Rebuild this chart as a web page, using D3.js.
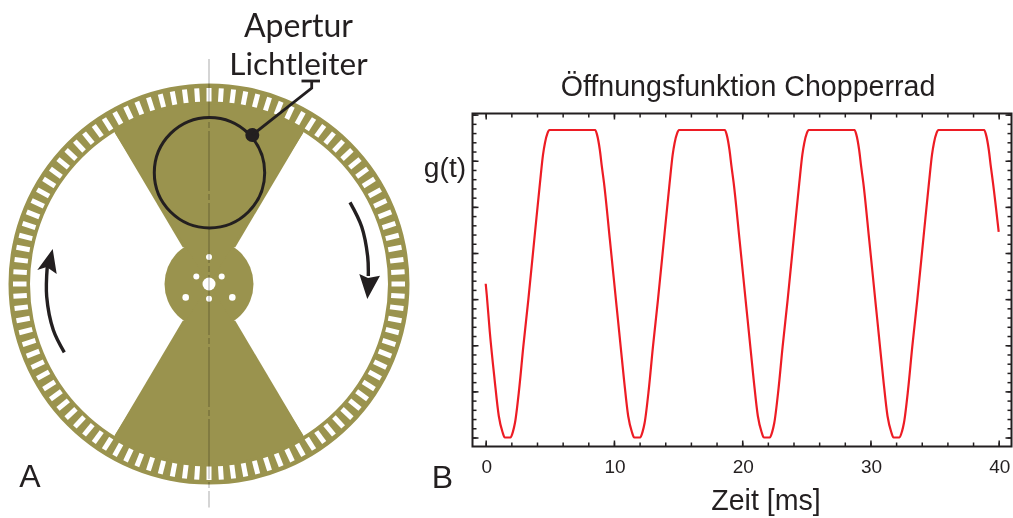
<!DOCTYPE html>
<html><head><meta charset="utf-8">
<style>html,body{margin:0;padding:0;background:#fff}svg{display:block}</style>
<script src="https://cdn.jsdelivr.net/npm/d3@7"></script></head>
<body><svg id="c" width="1013" height="518"></svg>
<script>
// Opening function g(t)
const timeMs = [0,0.08,0.32,0.69,1.02,1.31,1.49,
1.93,2.13,2.28,2.6,2.93,3.32,3.84,4.23,4.47,4.62,4.82,4.96,8.54,8.68,8.9,9.06,9.22,9.69,10.21,10.41,10.78,11.11,11.4,11.58,
12.04,12.24,12.39,12.71,13.04,13.43,13.95,14.34,14.58,14.73,14.93,15.07,18.65,18.79,19.01,19.17,19.33,19.8,20.32,20.52,20.89,21.22,21.51,21.69,
22.15,22.35,22.5,22.82,23.15,23.54,24.06,24.45,24.69,24.84,25.04,25.18,28.76,28.9,29.12,29.28,29.44,29.91,30.43,30.63,31,31.33,31.62,31.8,
32.26,32.46,32.61,32.93,33.26,33.65,34.17,34.56,34.8,34.95,35.15,35.29,38.87,39.01,39.23,39.39,39.55,40];
const gValue = [0.5,0.465,0.343,0.19,0.07,0.018,0,
0,0.02,0.047,0.154,0.295,0.447,0.665,0.827,0.92,0.958,0.99,1,1,0.985,0.935,0.88,0.83,0.64,0.425,0.343,0.19,0.07,0.018,0,
0,0.02,0.047,0.154,0.295,0.447,0.665,0.827,0.92,0.958,0.99,1,1,0.985,0.935,0.88,0.83,0.64,0.425,0.343,0.19,0.07,0.018,0,
0,0.02,0.047,0.154,0.295,0.447,0.665,0.827,0.92,0.958,0.99,1,1,0.985,0.935,0.88,0.83,0.64,0.425,0.343,0.19,0.07,0.018,0,
0,0.02,0.047,0.154,0.295,0.447,0.665,0.827,0.92,0.958,0.99,1,1,0.985,0.935,0.88,0.83,0.669];
const xTickLabels = [0,10,20,30,40];
const titleText = "Öffnungsfunktion Chopperrad";
const xLabelText = "Zeit [ms]";
const yLabelText = "g(t)";
const apertureLines = ["Apertur","Lichtleiter"];
const panelLetters = ["A","B"];
const slotAngles = d3.range(0,360,3.6);
const holeList = [[0,0,6.5],[-12.7,-7.6,3],[12.7,-7.6,3],[0,-27,3],[0,14.7,3],[-23.3,13.4,3.3],[23.3,13.4,3.3]];

const INK="#231f20", OLIVE="#9a934e", RED="#ed1c24";
const svg=d3.select("#c");

// ---------- Panel A: chopper wheel ----------
const cx=209, cy=284;
const wheel=svg.append("g").attr("transform",`translate(${cx},${cy})`);
const arc=d3.arc();
wheel.append("path").attr("fill",OLIVE).attr("fill-rule","evenodd")
  .attr("d",arc({innerRadius:179,outerRadius:200.5,startAngle:0,endAngle:2*Math.PI}));
wheel.append("circle").attr("r",44.5).attr("fill",OLIVE);
[1,-1].forEach(s=>{
  wheel.append("path").attr("fill",OLIVE)
    .attr("d",d3.line()([[-26.3,s*-36.7],[-94,s*-151],[94,s*-151],[26.3,s*-36.7]])+"Z");
  wheel.append("path").attr("fill",OLIVE)
    .attr("d",arc({innerRadius:0,outerRadius:180,
      startAngle:(s>0?0:Math.PI)-Math.atan2(94,151),endAngle:(s>0?0:Math.PI)+Math.atan2(94,151)}));
});
wheel.append("g").selectAll("rect").data(slotAngles).join("rect")
  .attr("x",-2.5).attr("y",-196).attr("width",5).attr("height",13.5).attr("fill","#fff")
  .attr("transform",d=>`rotate(${d})`);
wheel.append("g").selectAll("circle").data(holeList).join("circle")
  .attr("cx",d=>d[0]).attr("cy",d=>d[1]).attr("r",d=>d[2]).attr("fill","#fff");

svg.append("line").attr("x1",209).attr("x2",209).attr("y1",59).attr("y2",507.5)
  .attr("stroke","#c4c4c4").attr("stroke-width",1.4).attr("stroke-dasharray","60 3 6 3")
  .style("mix-blend-mode","multiply");

// aperture
svg.append("circle").attr("cx",209.5).attr("cy",172.7).attr("r",55.2)
  .attr("fill","none").attr("stroke",INK).attr("stroke-width",3);
svg.append("circle").attr("cx",252.3).attr("cy",135).attr("r",7).attr("fill",INK);
svg.append("path").attr("fill","none").attr("stroke",INK).attr("stroke-width",2.8)
  .attr("d",d3.line()([[252.3,135],[311.7,88],[311.7,81]]));
svg.append("line").attr("x1",301.5).attr("x2",320).attr("y1",81).attr("y2",81)
  .attr("stroke",INK).attr("stroke-width",2.8);

// rotation arrows
const curve=d3.line().curve(d3.curveCatmullRom);
svg.append("path").attr("fill","none").attr("stroke",INK).attr("stroke-width",3.4)
  .attr("d",curve([[350,202.3],[361.7,226.7],[367.7,256.7],[368.3,276]]));
svg.append("path").attr("fill",INK)
  .attr("d",d3.line()([[359.3,274],[368,278],[380,275.7],[367.3,299]])+"Z");
svg.append("path").attr("fill","none").attr("stroke",INK).attr("stroke-width",3.4)
  .attr("d",curve([[64.3,352.3],[53.3,330],[46.7,296.7],[47.3,266]]));
svg.append("path").attr("fill",INK)
  .attr("d",d3.line()([[52.7,249],[37.3,270],[46.7,267],[56.7,274]])+"Z");

const lato=`Lato,sans-serif`, arial=`"Liberation Sans",Arial,sans-serif`;
function label(t,x,y,size,fam,anchor){
  return svg.append("text").text(t).attr("x",x).attr("y",y).attr("font-size",size)
    .attr("font-family",fam).attr("text-anchor",anchor||"middle").attr("fill",INK);
}
label(apertureLines[0],298.5,36.5,32,lato);
label(apertureLines[1],298.5,75,31.5,lato);
label(panelLetters[0],30,487.3,32,arial);
label(panelLetters[1],442.5,488,32,arial);

// ---------- Panel B: opening function ----------
const L=472.5,R=1011.5,T=113.5,B=446.5;
const x=d3.scaleLinear().domain([0,40]).range([485.7,998.7]);
const y=d3.scaleLinear().domain([0,1]).range([437.5,130]);
const xMajor=[0,10,20,30,40], xMinor=d3.range(0,41,2);
const yMajor=d3.range(0,1.06,0.15), yMinor=d3.range(0,1.06,0.03);
function ticks(axis,vals,len,tr){
  const g=svg.append("g").attr("transform",tr)
    .call(axis.tickValues(vals).tickSize(len).tickFormat(""));
  g.select(".domain").remove();
  g.selectAll("line").attr("stroke",INK).attr("stroke-width",1.5);
}
ticks(d3.axisBottom(x),xMinor,-4,`translate(0,${B})`);
ticks(d3.axisBottom(x),xMajor,-6,`translate(0,${B})`);
ticks(d3.axisTop(x),xMinor,-4,`translate(0,${T})`);
ticks(d3.axisTop(x),xMajor,-6,`translate(0,${T})`);
ticks(d3.axisLeft(y),yMinor,-4,`translate(${L},0)`);
ticks(d3.axisLeft(y),yMajor,-6,`translate(${L},0)`);
ticks(d3.axisRight(y),yMinor,-4,`translate(${R},0)`);
ticks(d3.axisRight(y),yMajor,-6,`translate(${R},0)`);
svg.append("rect").attr("x",L).attr("y",T).attr("width",R-L).attr("height",B-T)
  .attr("fill","none").attr("stroke",INK).attr("stroke-width",2);

const line=d3.line().curve(d3.curveMonotoneX).x(i=>x(timeMs[i])).y(i=>y(gValue[i]));
svg.append("path").attr("d",line(d3.range(timeMs.length))).attr("fill","none")
  .attr("stroke",RED).attr("stroke-width",2.2).attr("stroke-linejoin","round");

xTickLabels.forEach((v)=>label(String(v),x(v)+1,473,19,arial));
label(titleText,748,96,28.6,arial);
label(xLabelText,766,510,28.6,arial);
label(yLabelText,445,177,28.2,arial);
</script></body></html>
